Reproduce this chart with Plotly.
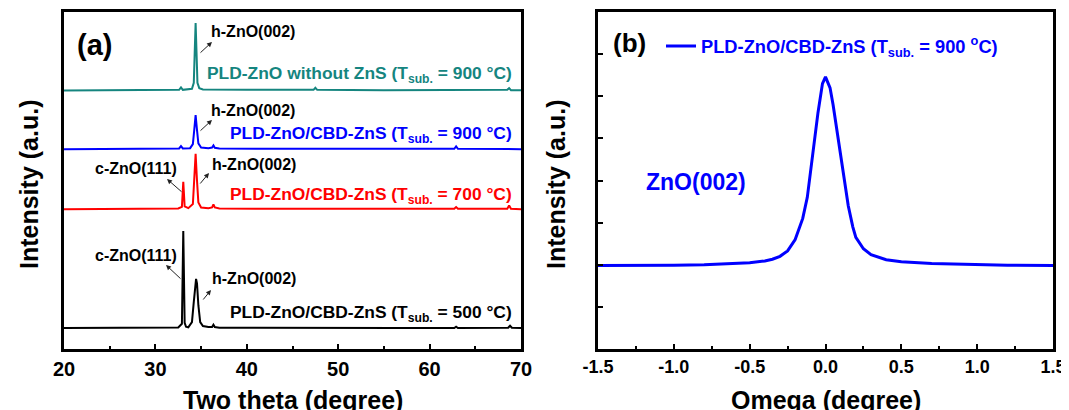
import plotly.graph_objects as go

# ---------------- data: panel (a) XRD 2-theta scans ----------------
x_500 = [20, 24, 28, 31, 32.5, 32.9, 33.05, 33.2, 33.35, 33.6, 34.0, 34.2, 34.35, 34.45, 34.55, 34.7,
         34.9, 35.2, 35.8, 36.2, 36.35, 36.5, 37, 45, 56.5, 62.7, 62.9, 63.1, 66, 68.6, 68.8, 69.0, 70]
y_500 = [6.2, 6.2, 6.3, 6.3, 6.4, 7.5, 35.0, 7.8, 6.6, 6.4, 8.0, 14.0, 20.0, 20.8, 19.5, 13.0,
         8.0, 6.8, 6.5, 6.5, 7.2, 6.5, 6.3, 6.2, 6.2, 6.2, 6.6, 6.2, 6.2, 6.3, 6.9, 6.3, 6.2]

x_700 = [20, 25, 30, 32.5, 32.9, 33.05, 33.2, 33.6, 34.1, 34.25, 34.4, 34.55, 34.7, 35.0, 35.8,
         36.2, 36.35, 36.5, 37, 45, 55, 62.7, 62.9, 63.1, 68.5, 68.7, 68.9, 70]
y_700 = [41.5, 41.5, 41.6, 41.7, 42.2, 49.6, 42.3, 41.8, 43.0, 50.0, 57.9, 50.0, 43.5, 42.0, 41.8,
         42.0, 42.9, 42.0, 41.7, 41.6, 41.5, 41.6, 42.1, 41.6, 41.6, 42.6, 41.6, 41.5]

x_900 = [20, 25, 30, 32.6, 32.8, 33.0, 33.8, 34.1, 34.25, 34.4, 34.55, 34.7, 35.0, 35.8, 36.2,
         36.35, 36.5, 37, 45, 55, 62.7, 62.9, 63.1, 70]
y_900 = [59.3, 59.4, 59.4, 59.5, 60.2, 59.5, 59.6, 60.8, 65.0, 69.4, 65.0, 61.0, 59.8, 59.6, 59.8,
         60.4, 59.7, 59.5, 59.4, 59.4, 59.4, 60.1, 59.4, 59.3]

x_noZnS = [20, 25, 30, 32.6, 32.8, 33.0, 34.0, 34.2, 34.3, 34.4, 34.5, 34.6, 34.8, 35.2, 40,
           47.3, 47.5, 47.7, 55, 62, 68.5, 68.7, 68.9, 70]
y_noZnS = [76.7, 76.8, 76.8, 76.9, 77.6, 76.9, 77.2, 79.0, 88.0, 96.7, 88.0, 79.0, 77.4, 77.0, 76.9,
           76.9, 77.5, 76.9, 76.8, 76.9, 76.9, 77.4, 76.8, 76.8]

tick_vals_a = [20, 30, 40, 50, 60, 70]
tick_text_a = ["20", "30", "40", "50", "60", "70"]

# ---------------- data: panel (b) omega rocking curve ----------------
omega = [-1.5, -1.2, -1.0, -0.8, -0.6, -0.5, -0.4, -0.35, -0.3, -0.25, -0.2, -0.15, -0.12, -0.1,
         -0.05, -0.02, 0.0, 0.03, 0.05, 0.1, 0.15, 0.18, 0.2, 0.25, 0.3, 0.4, 0.5, 0.7, 1.0, 1.2, 1.5]
omega_int = [1.98, 1.98, 1.99, 2.0, 2.03, 2.05, 2.09, 2.13, 2.2, 2.33, 2.6, 3.1, 3.6, 4.2,
             5.6, 6.3, 6.46, 6.2, 5.8, 4.6, 3.4, 2.9, 2.65, 2.38, 2.24, 2.12, 2.07, 2.03, 2.0, 1.99, 1.98]

tick_vals_b = [-1.5, -1.0, -0.5, 0.0, 0.5, 1.0, 1.5]
tick_text_b = ["-1.5", "-1.0", "-0.5", "0.0", "0.5", "1.0", "1.5"]

# ---------------- styling ----------------
# the page body has an 8 px default margin, so the figure is 8 px smaller
OFF = 8
W, H = 1069 - OFF, 410 - OFF
FONT = "Liberation Sans, Arial, sans-serif"
TEAL = "#15857F"
BLUE = "#0000FF"
RED = "#FF0000"
BLACK = "#000000"


def px(x):
    return (x - OFF) / W


def py(y):
    return 1 - (y - OFF) / H


fig = go.Figure()
fig.add_trace(go.Scatter(x=x_500, y=y_500, mode="lines", line=dict(color=BLACK, width=2),
                         xaxis="x", yaxis="y", showlegend=False))
fig.add_trace(go.Scatter(x=x_700, y=y_700, mode="lines", line=dict(color=RED, width=2),
                         xaxis="x", yaxis="y", showlegend=False))
fig.add_trace(go.Scatter(x=x_900, y=y_900, mode="lines", line=dict(color=BLUE, width=2),
                         xaxis="x", yaxis="y", showlegend=False))
fig.add_trace(go.Scatter(x=x_noZnS, y=y_noZnS, mode="lines", line=dict(color=TEAL, width=2),
                         xaxis="x", yaxis="y", showlegend=False))
fig.add_trace(go.Scatter(x=omega, y=omega_int, mode="lines", line=dict(color=BLUE, width=3),
                         xaxis="x2", yaxis="y2", showlegend=True,
                         name="PLD-ZnO/CBD-ZnS (T<sub>sub.</sub> = 900 <sup>o</sup>C)"))

ax_common = dict(showline=True, linecolor="black", linewidth=2.5, mirror=True,
                 showgrid=False, zeroline=False, automargin=False)

fig.update_layout(
    template="none",
    width=W, height=H,
    margin=dict(l=0, r=0, t=0, b=0, pad=0, autoexpand=False),
    paper_bgcolor="white", plot_bgcolor="white",
    font=dict(family=FONT, size=18, color="black", weight="bold"),
    xaxis=dict(domain=[px(64), px(521)], range=[20, 70], anchor="y",
               tickmode="array", tickvals=tick_vals_a, ticktext=tick_text_a,
               ticks="inside", ticklen=5, tickwidth=2, tickcolor="black",
               tickfont=dict(size=20, family=FONT, weight="bold"),
               minor=dict(tickmode="array", tickvals=[25, 35, 45, 55, 65], ticks="inside",
                          ticklen=3, tickwidth=2, tickcolor="black"),
               **ax_common),
    yaxis=dict(domain=[py(349), py(12)], range=[0, 100], anchor="x",
               showticklabels=False, ticks="", **ax_common),
    xaxis2=dict(domain=[px(598), px(1053)], range=[-1.5, 1.5], anchor="y2",
                tickmode="array", tickvals=tick_vals_b, ticktext=tick_text_b,
                ticks="inside", ticklen=5, tickwidth=2, tickcolor="black",
                tickfont=dict(size=18, family=FONT, weight="bold"),
                minor=dict(tickmode="array", tickvals=[-1.25, -0.75, -0.25, 0.25, 0.75, 1.25],
                           ticks="inside", ticklen=3, tickwidth=2, tickcolor="black"),
                **ax_common),
    yaxis2=dict(domain=[py(349), py(12)], range=[0, 8], anchor="x2",
                showticklabels=False, tickmode="linear", tick0=0, dtick=1,
                ticks="inside", ticklen=5, tickwidth=2, tickcolor="black",
                **ax_common),
    legend=dict(x=px(661), y=py(46), xanchor="left", yanchor="middle",
                bgcolor="rgba(0,0,0,0)", borderwidth=0,
                font=dict(size=18.3, color=BLUE, family=FONT, weight="bold"),
                itemwidth=30),
)

ann = []


def text(t, x, y, size, color="black", xanchor="center", weight="bold", angle=0):
    ann.append(dict(text=t, x=px(x), y=py(y), xref="paper", yref="paper",
                    xanchor=xanchor, yanchor="middle", showarrow=False, textangle=angle,
                    font=dict(size=size, color=color, family=FONT, weight=weight)))


def arrow(hx, hy, tx, ty):
    ann.append(dict(text="", x=px(hx), y=py(hy), xref="paper", yref="paper",
                    ax=tx - hx, ay=ty - hy, showarrow=True, arrowhead=2, arrowsize=1,
                    arrowwidth=1, arrowcolor="#222222", standoff=0, startstandoff=0))


# panel (a)
text("(a)", 94, 45, 29)
text("h-ZnO(002)", 209, 32, 16, xanchor="left")
text("PLD-ZnO without ZnS (T<sub>sub.</sub> = 900 °C)", 514, 74, 17.4, TEAL, xanchor="right")
text("h-ZnO(002)", 209, 110, 16, xanchor="left")
text("PLD-ZnO/CBD-ZnS (T<sub>sub.</sub> = 900 °C)", 514, 134, 17.4, BLUE, xanchor="right")
text("c-ZnO(111)", 136, 168, 16)
text("h-ZnO(002)", 210, 164, 16, xanchor="left")
text("PLD-ZnO/CBD-ZnS (T<sub>sub.</sub> = 700 °C)", 514, 195, 17.4, RED, xanchor="right")
text("c-ZnO(111)", 136, 255, 16)
text("h-ZnO(002)", 210, 278, 16, xanchor="left")
text("PLD-ZnO/CBD-ZnS (T<sub>sub.</sub> = 500 °C)", 514, 313, 17.4, BLACK, xanchor="right")
arrow(212, 42, 199, 54)
arrow(212, 120, 199, 132)
arrow(209, 173, 199, 185)
arrow(167, 179, 183, 193)
arrow(166, 265, 182, 280)
arrow(211, 290, 202, 301)
text("Intensity (a.u.)", 29, 185, 25, angle=-90)
text("Two theta (degree)", 293, 400, 25)

# panel (b)
text("(b)", 629, 43, 26)
text("ZnO(002)", 696, 182, 23, BLUE)
text("Intensity (a.u.)", 556, 185, 25, angle=-90)
text("Omega (degree)", 826, 400, 25)

fig.update_layout(annotations=ann)
fig.write_html("out.html")
